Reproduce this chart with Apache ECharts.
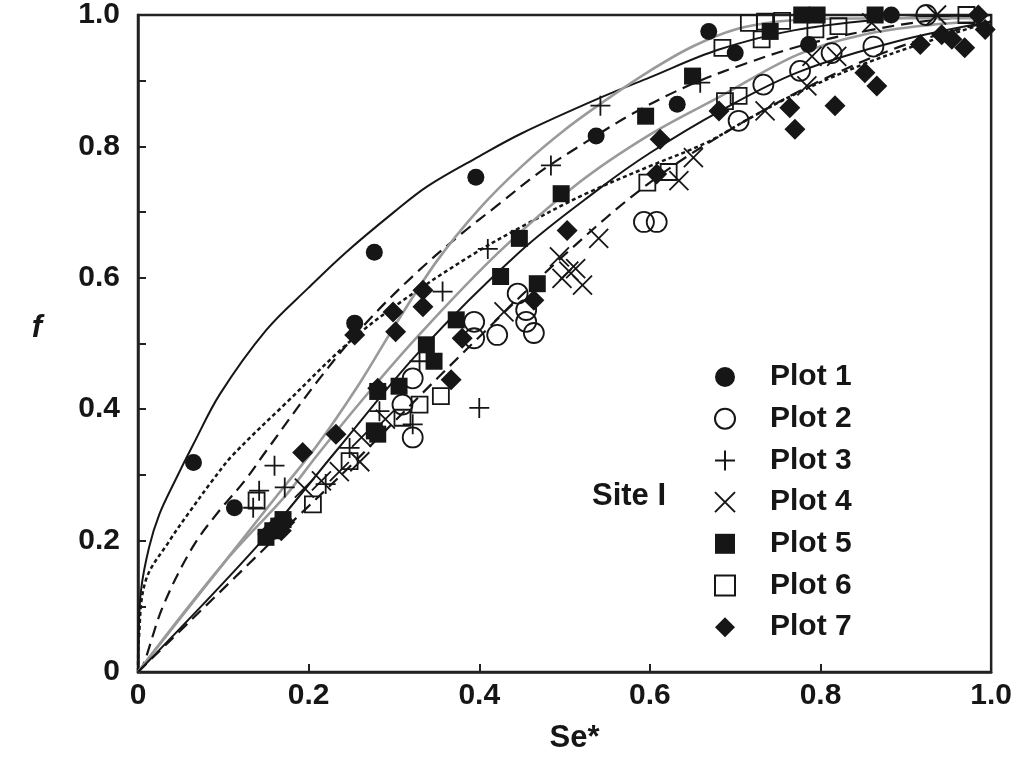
<!DOCTYPE html>
<html>
<head>
<meta charset="utf-8">
<script src="https://cdn.jsdelivr.net/npm/echarts@6/dist/echarts.min.js"></script>
<style>html,body{margin:0;padding:0;background:#fff;}#c{width:1015px;height:760px;}</style>
</head>
<body>
<div id="c"></div>
<script>
// ---- data: [Se*, f] ----
const plot1 = [[0.065,0.319],[0.113,0.25],[0.254,0.531],[0.277,0.639],[0.396,0.753],[0.537,0.816],[0.632,0.864],[0.669,0.975],[0.70,0.942],[0.786,0.955],[0.883,1.0]];
const plot2 = [[0.322,0.357],[0.31,0.407],[0.322,0.447],[0.394,0.508],[0.394,0.533],[0.421,0.513],[0.445,0.576],[0.455,0.551],[0.455,0.533],[0.464,0.516],[0.593,0.685],[0.608,0.685],[0.704,0.839],[0.733,0.894],[0.776,0.915],[0.813,0.942],[0.862,0.952],[0.924,1.0]];
const plot3 = [[0.135,0.25],[0.142,0.276],[0.16,0.314],[0.172,0.281],[0.22,0.286],[0.248,0.341],[0.283,0.397],[0.322,0.377],[0.33,0.473],[0.357,0.579],[0.40,0.402],[0.41,0.644],[0.484,0.771],[0.542,0.862],[0.659,0.897]];
const plot4 = [[0.195,0.28],[0.215,0.291],[0.236,0.305],[0.26,0.32],[0.262,0.357],[0.29,0.385],[0.429,0.548],[0.494,0.632],[0.497,0.599],[0.505,0.61],[0.513,0.614],[0.521,0.589],[0.54,0.66],[0.634,0.748],[0.651,0.783],[0.735,0.854],[0.784,0.892],[0.79,0.937],[0.819,0.937],[0.86,0.988],[0.936,1.0]];
const plot5 = [[0.15,0.205],[0.158,0.215],[0.165,0.222],[0.17,0.232],[0.277,0.367],[0.281,0.362],[0.281,0.427],[0.306,0.435],[0.338,0.498],[0.347,0.473],[0.373,0.536],[0.425,0.602],[0.447,0.66],[0.468,0.591],[0.496,0.728],[0.595,0.846],[0.65,0.907],[0.741,0.975],[0.778,1.0],[0.796,1.0],[0.864,1.0]];
const plot6 = [[0.139,0.261],[0.205,0.255],[0.248,0.321],[0.31,0.387],[0.33,0.407],[0.355,0.42],[0.597,0.745],[0.622,0.761],[0.685,0.95],[0.688,0.869],[0.704,0.877],[0.716,0.988],[0.731,0.963],[0.735,0.99],[0.755,0.991],[0.794,0.978],[0.821,0.983],[0.971,1.0]];
const plot7 = [[0.152,0.21],[0.16,0.22],[0.168,0.215],[0.172,0.228],[0.193,0.334],[0.232,0.362],[0.254,0.513],[0.281,0.432],[0.299,0.548],[0.302,0.518],[0.334,0.581],[0.334,0.556],[0.367,0.445],[0.38,0.508],[0.464,0.566],[0.503,0.672],[0.608,0.758],[0.612,0.811],[0.681,0.854],[0.764,0.859],[0.770,0.826],[0.817,0.862],[0.852,0.912],[0.866,0.892],[0.917,0.955],[0.942,0.97],[0.954,0.963],[0.969,0.95],[0.985,1.0],[0.993,0.978]];

// fitted curves, points
const fitSolidTop = [[0,0],[0.0005,0.05],[0.0035,0.124],[0.013,0.19],[0.025,0.24],[0.043,0.29],[0.065,0.347],[0.096,0.423],[0.15,0.52],[0.2,0.585],[0.244,0.639],[0.3,0.7],[0.34,0.74],[0.4,0.785],[0.45,0.82],[0.54,0.873],[0.6,0.905],[0.68,0.947],[0.77,0.977],[0.88,0.994],[1.0,1.0]];
const fitDotted = [[0,0],[0.001,0.05],[0.009,0.139],[0.037,0.2],[0.06,0.243],[0.087,0.291],[0.111,0.33],[0.174,0.41],[0.25,0.505],[0.31,0.565],[0.388,0.632],[0.45,0.678],[0.525,0.728],[0.6,0.77],[0.665,0.805],[0.72,0.845],[0.774,0.882],[0.85,0.925],[0.915,0.955],[1.0,0.99]];
const fitDashedUpper = [[0,0],[0.006,0.01],[0.029,0.099],[0.064,0.19],[0.095,0.245],[0.125,0.291],[0.15,0.336],[0.213,0.447],[0.27,0.535],[0.33,0.612],[0.38,0.668],[0.423,0.712],[0.47,0.76],[0.517,0.8],[0.58,0.85],[0.646,0.893],[0.71,0.925],[0.774,0.952],[0.85,0.975],[0.93,0.992],[1,1]];
const fitGrayUpper = [[0,0],[0.1,0.165],[0.17,0.28],[0.21,0.345],[0.26,0.44],[0.3,0.525],[0.35,0.625],[0.4,0.705],[0.45,0.77],[0.5,0.825],[0.55,0.872],[0.6,0.915],[0.65,0.952],[0.7,0.978],[0.75,0.99],[0.8,0.994],[0.9,0.995],[0.99,0.995]];
const fitGrayLower = [[0,0],[0.1,0.165],[0.174,0.27],[0.21,0.33],[0.27,0.425],[0.33,0.514],[0.423,0.639],[0.517,0.745],[0.6,0.818],[0.681,0.875],[0.774,0.94],[0.85,0.97],[0.93,0.985],[0.99,0.99]];
const fitSolidLower = [[0,0],[0.142,0.195],[0.232,0.336],[0.33,0.488],[0.447,0.639],[0.54,0.735],[0.6,0.79],[0.681,0.853],[0.774,0.913],[0.89,0.96],[1,0.99]];
const fitDashedLower = [[0,0],[0.146,0.185],[0.186,0.235],[0.25,0.315],[0.33,0.42],[0.4,0.51],[0.5,0.635],[0.6,0.745],[0.7,0.83],[0.8,0.9],[0.9,0.955],[1,0.99]];

const plotNames = ['Plot 1','Plot 2','Plot 3','Plot 4','Plot 5','Plot 6','Plot 7'];
const xTicks = [0,0.2,0.4,0.6,0.8,1.0];

const INK = '#161616';
const FONT = "'Liberation Sans', Arial, sans-serif";
const PLUS = 'path://M10,0L10,20M0,10L20,10';
const CROSS = 'path://M0,0L20,20M20,0L0,20';

function fitLine(data, color, width, type) {
  return { type:'line', data, showSymbol:false, symbol:'none', smooth:0.35, z:1, silent:true,
    lineStyle:{ color, width, type }, emphasis:{disabled:true} };
}
const filled = { color: INK, opacity: 1 };
const open = { color: 'transparent', borderColor: INK, borderWidth: 1.8, opacity: 1 };

function sc(name, data, symbol, size, style) {
  return { type:'scatter', name, data, symbol, symbolSize:size, z:3, itemStyle: style, emphasis:{disabled:true} };
}
const tickFmt = (v)=> v===0 ? '0' : v.toFixed(1);

const chart = echarts.init(document.getElementById('c'), null, {renderer:'canvas'});
chart.setOption({
  animation:false,
  backgroundColor:'#fff',
  grid:{ left:138, right:22, top:12, bottom:88, show:true, borderColor:'#222', borderWidth:2.5, backgroundColor:'transparent' },
  xAxis:{ type:'value', min:0, max:1, interval:0.2,
    name:'Se*', nameLocation:'middle', nameGap:51,
    nameTextStyle:{ fontFamily:FONT, fontWeight:'bold', fontSize:31, color:INK, padding:[0,0,0,20] },
    axisLine:{ show:true, lineStyle:{ color:'#222', width:2.5 } },
    axisTick:{ show:true, inside:true, length:8, lineStyle:{ color:'#222', width:2 } },
    splitLine:{ show:false },
    axisLabel:{ fontFamily:FONT, fontWeight:'bold', fontSize:30, color:INK, margin:9, formatter:tickFmt } },
  yAxis:{ type:'value', min:0, max:1, interval:0.2,
    name:'f', nameLocation:'middle', nameGap:96, nameRotate:0,
    nameTextStyle:{ fontFamily:FONT, fontWeight:'bold', fontStyle:'italic', fontSize:31, color:INK, verticalAlign:'bottom' },
    axisLine:{ show:true, lineStyle:{ color:'#222', width:2.5 } },
    axisTick:{ show:true, inside:true, length:8, lineStyle:{ color:'#222', width:2 } },
    minorTick:{ show:true, splitNumber:2, length:8, lineStyle:{ color:'#222', width:2 } },
    splitLine:{ show:false }, minorSplitLine:{ show:false },
    axisLabel:{ fontFamily:FONT, fontWeight:'bold', fontSize:30, color:INK, margin:18, formatter:tickFmt } },
  legend:{ data:plotNames, orient:'vertical', left:709, top:357, itemWidth:20, itemHeight:20, itemGap:11.7,
    selectedMode:false,
    textStyle:{ fontFamily:FONT, fontWeight:'bold', fontSize:30, color:INK, lineHeight:30, padding:[0,0,0,30] } },
  graphic:[{ type:'text', left:592, top:481, style:{ text:'Site I', font:"bold 31px 'Liberation Sans', Arial, sans-serif", fill:INK } }],
  series:[
    fitLine(fitSolidTop, INK, 2, 'solid'),
    fitLine(fitDotted, INK, 2.5, [4,3]),
    fitLine(fitDashedUpper, INK, 2.2, [12,7]),
    fitLine(fitGrayUpper, '#9a9a9a', 2.6, 'solid'),
    fitLine(fitGrayLower, '#9a9a9a', 2.6, 'solid'),
    fitLine(fitSolidLower, INK, 2, 'solid'),
    fitLine(fitDashedLower, INK, 2.2, [12,7]),
    sc('Plot 1', plot1, 'circle', 17, filled),
    sc('Plot 2', plot2, 'circle', 20, open),
    sc('Plot 3', plot3, PLUS, 20, open),
    sc('Plot 4', plot4, CROSS, 19, open),
    sc('Plot 5', plot5, 'rect', 17, filled),
    sc('Plot 6', plot6, 'rect', 16, open),
    sc('Plot 7', plot7, 'diamond', 21, filled)
  ]
});
</script>
</body>
</html>
